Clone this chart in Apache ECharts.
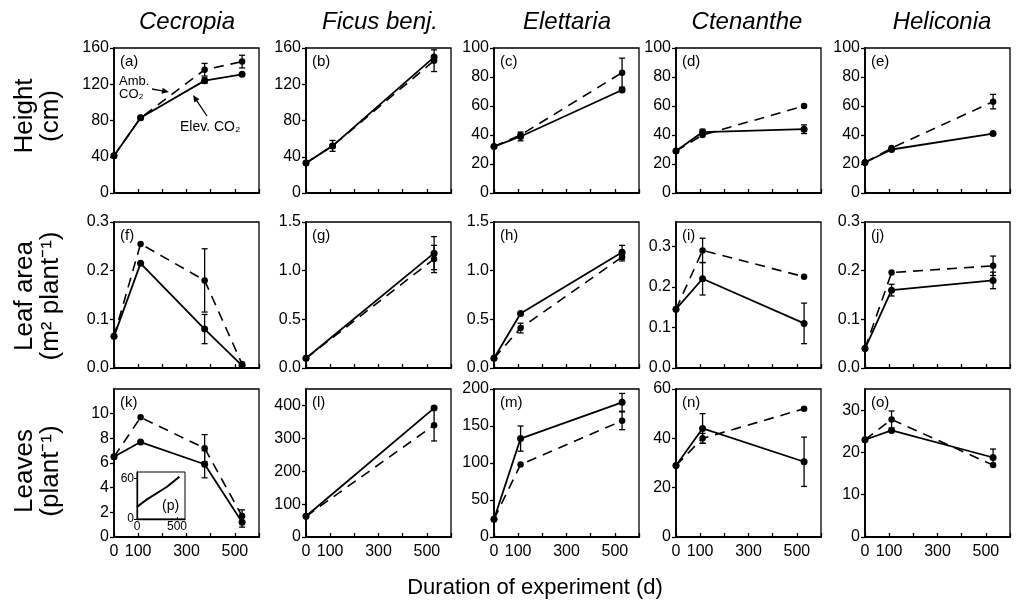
<!DOCTYPE html>
<html>
<head>
<meta charset="utf-8">
<script src="https://cdn.jsdelivr.net/npm/echarts@6/dist/echarts.min.js"></script>
<style>
html, body { margin: 0; padding: 0; background: #fff; }
#chart { width: 1016px; height: 614px; }
</style>
</head>
<body>
<div id="chart"></div>
<script>
var FONT = '"Liberation Sans", Arial, Helvetica, sans-serif';

// sampling days (x)
var days4 = [0, 110, 375, 530];
var days3 = [0, 110, 530];
var days2 = [0, 530];

// Height (cm): elevated CO2 (solid), ambient CO2 (dashed), error bars [day, value, sd]
var heightElevA = [41, 83, 124, 131];
var heightAmbA = [41, 83, 136, 145];
var heightErrA = [[375, 136, 7], [530, 145, 7], [375, 124, 3]];
var heightElevB = [33, 52, 150];
var heightAmbB = [33, 52, 146];
var heightErrB = [[110, 52, 6], [530, 146, 12]];
var heightElevC = [32, 39, 71];
var heightAmbC = [32, 40, 83];
var heightErrC = [[110, 39, 3], [530, 83, 10]];
var heightElevD = [29, 42, 44];
var heightAmbD = [29, 40, 60];
var heightErrD = [[110, 42, 2], [530, 44, 3]];
var heightElevE = [21, 30, 41];
var heightAmbE = [21, 31, 63];
var heightErrE = [[530, 63, 5]];

// Leaf area (m2 plant-1)
var areaElevF = [0.065, 0.215, 0.08, 0.005];
var areaAmbF = [0.065, 0.255, 0.18, 0.008];
var areaErrF = [[375, 0.18, 0.065], [375, 0.08, 0.03]];
var areaElevG = [0.1, 1.18];
var areaAmbG = [0.1, 1.12];
var areaErrG = [[530, 1.18, 0.17], [530, 1.12, 0.14]];
var areaElevH = [0.1, 0.56, 1.19];
var areaAmbH = [0.1, 0.41, 1.14];
var areaErrH = [[110, 0.41, 0.05], [530, 1.19, 0.07], [530, 1.14, 0.04]];
var areaElevI = [0.145, 0.22, 0.11];
var areaAmbI = [0.145, 0.29, 0.225];
var areaErrI = [[110, 0.29, 0.03], [110, 0.22, 0.04], [530, 0.11, 0.05]];
var areaElevJ = [0.04, 0.16, 0.18];
var areaAmbJ = [0.04, 0.196, 0.21];
var areaErrJ = [[110, 0.16, 0.012], [530, 0.21, 0.02], [530, 0.18, 0.017]];

// Leaves (plant-1)
var leavesElevK = [6.5, 7.7, 5.9, 1.2];
var leavesAmbK = [6.5, 9.7, 7.2, 1.7];
var leavesErrK = [[375, 7.2, 1.1], [375, 5.9, 1.1], [530, 1.7, 0.5], [530, 1.2, 0.4]];
var leavesElevL = [63, 392];
var leavesAmbL = [63, 340];
var leavesErrL = [[530, 340, 48]];
var leavesElevM = [24, 133, 182];
var leavesAmbM = [24, 98, 157];
var leavesErrM = [[110, 133, 17], [530, 157, 12], [530, 182, 12]];
var leavesElevN = [29, 44, 30.5];
var leavesAmbN = [29, 40, 52];
var leavesErrN = [[110, 44, 6], [110, 40, 2], [530, 30.5, 10]];
var leavesElevO = [23, 25.2, 18.8];
var leavesAmbO = [23, 27.8, 17];
var leavesErrO = [[110, 27.8, 2], [530, 18.8, 2]];

// inset (p): Cecropia leaves, second measure
var insetP = [18, 28, 48, 63];

// tick labels
var xLabels = [0, 100, 300, 500];
var speciesNames = ['Cecropia', 'Ficus benj.', 'Elettaria', 'Ctenanthe', 'Heliconia'];
var rowNames = [['Height', '(cm)'], ['Leaf area', '(m\u00B2 plant\u207B\u00B9)'], ['Leaves', '(plant\u207B\u00B9)']];

var panels = [
    {tag: '(a)', days: days4, elev: heightElevA, amb: heightAmbA, err: heightErrA, max: 160, ticks: [0, 40, 80, 120, 160], dec: 0},
    {tag: '(b)', days: days3, elev: heightElevB, amb: heightAmbB, err: heightErrB, max: 160, ticks: [0, 40, 80, 120, 160], dec: 0},
    {tag: '(c)', days: days3, elev: heightElevC, amb: heightAmbC, err: heightErrC, max: 100, ticks: [0, 20, 40, 60, 80, 100], dec: 0},
    {tag: '(d)', days: days3, elev: heightElevD, amb: heightAmbD, err: heightErrD, max: 100, ticks: [0, 20, 40, 60, 80, 100], dec: 0},
    {tag: '(e)', days: days3, elev: heightElevE, amb: heightAmbE, err: heightErrE, max: 100, ticks: [0, 20, 40, 60, 80, 100], dec: 0},
    {tag: '(f)', days: days4, elev: areaElevF, amb: areaAmbF, err: areaErrF, max: 0.3, ticks: [0, 0.1, 0.2, 0.3], dec: 1},
    {tag: '(g)', days: days2, elev: areaElevG, amb: areaAmbG, err: areaErrG, max: 1.5, ticks: [0, 0.5, 1.0, 1.5], dec: 1},
    {tag: '(h)', days: days3, elev: areaElevH, amb: areaAmbH, err: areaErrH, max: 1.5, ticks: [0, 0.5, 1.0, 1.5], dec: 1},
    {tag: '(i)', days: days3, elev: areaElevI, amb: areaAmbI, err: areaErrI, max: 0.36, ticks: [0, 0.1, 0.2, 0.3], dec: 1},
    {tag: '(j)', days: days3, elev: areaElevJ, amb: areaAmbJ, err: areaErrJ, max: 0.3, ticks: [0, 0.1, 0.2, 0.3], dec: 1},
    {tag: '(k)', days: days4, elev: leavesElevK, amb: leavesAmbK, err: leavesErrK, max: 12, ticks: [0, 2, 4, 6, 8, 10], dec: 0},
    {tag: '(l)', days: days2, elev: leavesElevL, amb: leavesAmbL, err: leavesErrL, max: 450, ticks: [0, 100, 200, 300, 400], dec: 0},
    {tag: '(m)', days: days3, elev: leavesElevM, amb: leavesAmbM, err: leavesErrM, max: 200, ticks: [0, 50, 100, 150, 200], dec: 0},
    {tag: '(n)', days: days3, elev: leavesElevN, amb: leavesAmbN, err: leavesErrN, max: 60, ticks: [0, 20, 40, 60], dec: 0},
    {tag: '(o)', days: days3, elev: leavesElevO, amb: leavesAmbO, err: leavesErrO, max: 35, ticks: [0, 10, 20, 30], dec: 0}
];

var colLeft = [114, 306, 494, 676, 865];
var rowTop = [48, 222, 389];
var rowHeight = [145, 146, 148];
var plotWidth = 145;

function zip(xs, ys)
{
    return xs.map((x, i) => [x, ys[i]]);
}

function errorBars(idx, bars)
{
    return {
        type: 'custom',
        xAxisIndex: idx,
        yAxisIndex: idx,
        data: bars,
        z: 3,
        silent: true,
        renderItem: function (params, api) {
            var lo = api.coord([api.value(0), api.value(1) - api.value(2)]);
            var hi = api.coord([api.value(0), api.value(1) + api.value(2)]);
            var w = 3;
            var st = {stroke: '#000', lineWidth: 1.3};
            return {type: 'group', children: [
                {type: 'line', shape: {x1: lo[0], y1: lo[1], x2: hi[0], y2: hi[1]}, style: st},
                {type: 'line', shape: {x1: lo[0] - w, y1: lo[1], x2: lo[0] + w, y2: lo[1]}, style: st},
                {type: 'line', shape: {x1: hi[0] - w, y1: hi[1], x2: hi[0] + w, y2: hi[1]}, style: st}
            ]};
        }
    };
}

function arrow(x1, y1, x2, y2)
{
    var a = Math.atan2(y2 - y1, x2 - x1);
    var L = 7, W = 3;
    var bx = x2 - L * Math.cos(a), by = y2 - L * Math.sin(a);
    return [
        {type: 'line', shape: {x1: x1, y1: y1, x2: bx, y2: by}, style: {stroke: '#000', lineWidth: 1.3}},
        {type: 'polygon', shape: {points: [[x2, y2],
            [bx + W * Math.sin(a), by - W * Math.cos(a)],
            [bx - W * Math.sin(a), by + W * Math.cos(a)]]}, style: {fill: '#000'}}
    ];
}

var grids = [], xAxes = [], yAxes = [], series = [], graphics = [];

panels.forEach(function (p, i) {
    var row = Math.floor(i / 5), col = i % 5;
    var left = colLeft[col], top = rowTop[row];
    grids.push({left: left, top: top, width: plotWidth, height: rowHeight[row],
        show: true, borderColor: '#000', borderWidth: 1.3, backgroundColor: 'transparent'});
    xAxes.push({
        gridIndex: i, type: 'value', min: 0, max: 600, interval: 100,
        axisLine: {show: true, onZero: false, lineStyle: {color: '#000', width: 1.8}},
        axisTick: {show: true, inside: true, length: 4, lineStyle: {color: '#000', width: 1.3}},
        axisLabel: {show: row == 2, customValues: xLabels, color: '#000', fontSize: 16, fontFamily: FONT, margin: 7},
        splitLine: {show: false}
    });
    yAxes.push({
        gridIndex: i, type: 'value', min: 0, max: p.max,
        axisLine: {show: true, onZero: false, lineStyle: {color: '#000', width: 1.8}},
        axisTick: {show: true, length: 4, customValues: p.ticks, lineStyle: {color: '#000', width: 1.3}},
        axisLabel: {customValues: p.ticks, color: '#000', fontSize: 16, fontFamily: FONT, margin: 5,
            formatter: (v) => Number(v).toFixed(p.dec)},
        splitLine: {show: false}
    });
    series.push({
        type: 'line', xAxisIndex: i, yAxisIndex: i, data: zip(p.days, p.amb),
        symbol: 'circle', symbolSize: 6.5, z: 4,
        itemStyle: {color: '#000'},
        lineStyle: {color: '#000', width: 1.6, type: [10, 7]}
    });
    series.push({
        type: 'line', xAxisIndex: i, yAxisIndex: i, data: zip(p.days, p.elev),
        symbol: 'circle', symbolSize: 7, z: 5,
        itemStyle: {color: '#000'},
        lineStyle: {color: '#000', width: 1.8}
    });
    series.push(errorBars(i, p.err));
    graphics.push({type: 'text', x: left + 6, y: top + 14, z: 10,
        style: {text: p.tag, fill: '#000', fontSize: 15, fontFamily: FONT, align: 'left', verticalAlign: 'middle'}});
});

// inset (p)
var insetIdx = panels.length;
grids.push({left: 137, top: 472, width: 48, height: 47, show: true, borderColor: '#000', borderWidth: 1, backgroundColor: '#fff'});
xAxes.push({
    gridIndex: insetIdx, type: 'value', min: 0, max: 600, interval: 100,
    axisLine: {show: true, onZero: false, lineStyle: {color: '#000', width: 1.3}},
    axisTick: {show: true, inside: true, length: 2, customValues: [0, 500], lineStyle: {color: '#000'}},
    axisLabel: {customValues: [0, 500], color: '#000', fontSize: 12, fontFamily: FONT, margin: 2},
    splitLine: {show: false}
});
yAxes.push({
    gridIndex: insetIdx, type: 'value', min: 0, max: 70,
    axisLine: {show: true, onZero: false, lineStyle: {color: '#000', width: 1.3}},
    axisTick: {show: true, length: 3, customValues: [0, 60], lineStyle: {color: '#000'}},
    axisLabel: {customValues: [0, 60], color: '#000', fontSize: 12, fontFamily: FONT, margin: 3},
    splitLine: {show: false}
});
series.push({
    type: 'line', xAxisIndex: insetIdx, yAxisIndex: insetIdx, data: zip(days4, insetP),
    symbol: 'none', z: 6, lineStyle: {color: '#000', width: 2}
});
graphics.push({type: 'text', x: 162, y: 506, z: 10,
    style: {text: '(p)', fill: '#000', fontSize: 14, fontFamily: FONT, align: 'left', verticalAlign: 'middle'}});

// column titles
var titleX = [187, 380, 567, 747, 942];
speciesNames.forEach(function (name, i) {
    graphics.push({type: 'text', x: titleX[i], y: 22,
        style: {text: name, fill: '#000', fontSize: 24, fontStyle: 'italic', fontFamily: FONT, align: 'center', verticalAlign: 'middle'}});
});

// row titles
var rowY = [116, 296, 471];
rowNames.forEach(function (lines, i) {
    graphics.push({type: 'text', x: 25, y: rowY[i], rotation: Math.PI / 2,
        style: {text: lines[0], fill: '#000', fontSize: 26, fontFamily: FONT, align: 'center', verticalAlign: 'middle'}});
    graphics.push({type: 'text', x: 51, y: rowY[i], rotation: Math.PI / 2,
        style: {text: lines[1], fill: '#000', fontSize: 26, fontFamily: FONT, align: 'center', verticalAlign: 'middle'}});
});

// x title
graphics.push({type: 'text', x: 535, y: 588,
    style: {text: 'Duration of experiment (d)', fill: '#000', fontSize: 22, fontFamily: FONT, align: 'center', verticalAlign: 'middle'}});

// annotations in (a)
graphics.push({type: 'text', x: 119, y: 81,
    style: {text: 'Amb.', fill: '#000', fontSize: 13, fontFamily: FONT, align: 'left', verticalAlign: 'middle'}});
graphics.push({type: 'text', x: 119, y: 94,
    style: {text: 'CO\u2082', fill: '#000', fontSize: 13, fontFamily: FONT, align: 'left', verticalAlign: 'middle'}});
graphics.push({type: 'text', x: 180, y: 127,
    style: {text: 'Elev. CO\u2082', fill: '#000', fontSize: 14, fontFamily: FONT, align: 'left', verticalAlign: 'middle'}});
arrow(152, 89, 169, 92).forEach((g) => graphics.push(g));
arrow(207, 116, 193, 95).forEach((g) => graphics.push(g));

var chart = echarts.init(document.getElementById('chart'));
chart.setOption({
    animation: false,
    backgroundColor: '#fff',
    grid: grids,
    xAxis: xAxes,
    yAxis: yAxes,
    series: series,
    graphic: graphics
});
</script>
</body>
</html>
